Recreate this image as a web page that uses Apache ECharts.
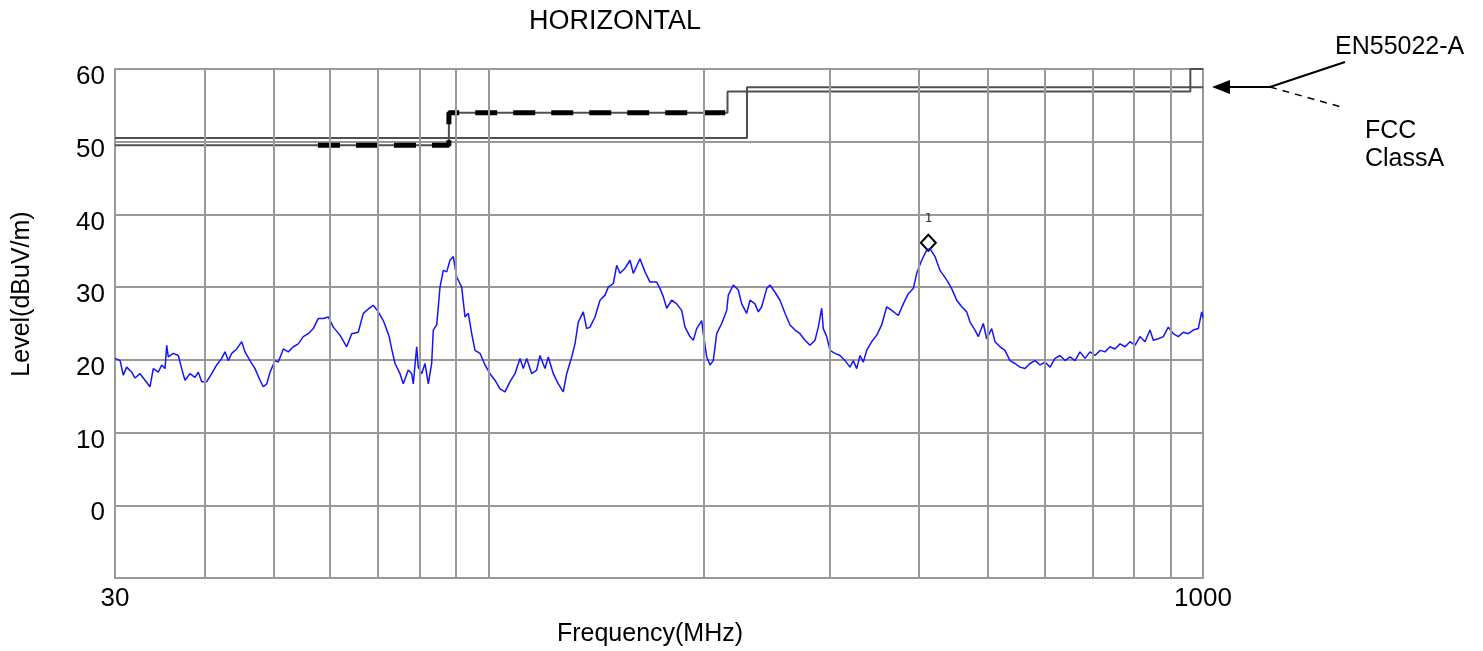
<!DOCTYPE html>
<html><head><meta charset="utf-8">
<script src="https://cdn.jsdelivr.net/npm/echarts@6/dist/echarts.min.js"></script>
<style>html,body{margin:0;padding:0;background:#fff}#c{width:1483px;height:651px}</style>
</head><body><div id="c"></div>
<script>
// Measured trace (frequency in MHz, level in dBuV/m)
const freqMHz = [30.0,30.5,30.81,31.15,31.66,32.0,32.52,33.05,33.58,33.94,34.49,34.87,35.25,35.44,35.62,36.2,36.79,37.19,37.59,38.2,38.82,39.24,39.67,40.32,40.97,41.64,42.31,42.77,43.22,43.7,44.41,45.13,45.61,46.35,47.11,47.87,48.38,48.92,49.44,50.24,50.78,51.61,52.44,53.3,54.16,55.04,55.94,56.84,57.77,58.71,59.66,60.63,61.95,63.3,64.33,65.71,66.78,67.87,68.97,70.09,71.23,71.62,72.6,73.18,73.97,75.17,75.97,77.2,78.06,78.46,79.32,79.73,80.61,81.47,82.35,83.25,83.68,84.61,85.51,86.42,87.38,88.31,89.26,90.24,91.7,92.69,93.68,94.71,95.72,97.28,98.86,100.46,102.09,103.75,105.44,107.15,108.89,110.66,111.84,113.08,114.91,116.78,118.03,119.95,121.23,123.2,125.2,127.23,128.63,130.73,132.12,133.54,135.7,137.2,138.67,140.92,143.21,145.54,147.09,149.48,151.13,152.74,155.23,157.75,159.43,162.91,165.56,168.25,171.92,173.76,175.62,177.56,180.44,183.37,186.35,188.34,191.4,193.45,195.58,198.76,199.79,201.99,204.15,206.33,208.6,211.99,215.44,216.55,220.07,223.64,226.11,229.78,232.24,236.01,238.54,241.16,245.08,247.7,251.72,255.81,259.97,264.19,268.48,272.85,277.28,281.78,286.36,289.42,292.61,294.12,297.36,300.54,305.43,310.39,315.43,320.56,323.99,327.56,331.06,334.6,338.28,343.78,349.37,355.04,360.81,366.67,374.55,380.64,386.82,393.1,397.43,403.89,410.45,414.84,421.58,428.43,437.78,444.89,452.12,459.47,466.93,471.92,479.59,484.72,492.59,498.02,506.11,511.52,519.83,528.28,536.86,545.58,554.45,563.45,572.6,581.91,591.36,600.97,610.73,620.65,630.73,640.98,651.39,661.98,672.73,683.66,694.76,706.05,717.52,729.18,741.02,753.06,765.29,777.73,790.36,803.2,816.25,829.51,842.98,852.0,865.84,879.91,894.2,908.73,923.49,938.49,953.74,969.24,984.98,995.84,1000];
const levelDb = [20.2,19.9,17.9,19.0,18.3,17.5,18.1,17.2,16.3,18.8,18.3,19.3,18.8,22.0,20.4,20.9,20.6,18.8,17.2,18.1,17.6,18.3,17.0,17.0,18.1,19.3,20.2,21.1,19.9,20.9,21.5,22.5,21.1,19.9,18.8,17.2,16.3,16.7,18.3,19.9,19.7,21.5,21.1,21.8,22.2,23.2,23.6,24.3,25.7,25.7,25.9,24.5,23.4,21.8,23.6,23.8,26.4,27.0,27.5,26.6,25.4,24.8,23.2,21.5,19.5,18.1,16.7,18.6,18.1,16.7,21.8,19.0,18.1,19.5,16.7,19.5,24.1,24.8,30.0,32.3,32.1,33.7,34.2,31.4,30.0,25.9,26.4,23.6,21.3,20.9,19.3,18.1,17.2,16.0,15.6,17.0,18.1,20.2,18.8,20.2,18.1,18.6,20.6,18.8,20.4,18.1,16.7,15.6,18.1,20.4,22.2,25.2,26.6,24.3,24.5,25.9,28.2,28.9,30.0,30.5,33.0,31.9,32.6,33.7,31.9,33.9,32.1,30.7,30.7,29.8,28.7,27.1,28.2,27.7,26.8,24.5,23.2,22.7,24.3,25.4,23.6,20.4,19.3,19.9,23.6,25.0,26.8,28.9,30.3,29.6,27.7,26.4,28.2,27.7,26.6,27.3,29.8,30.3,29.3,28.2,26.4,24.8,24.1,23.6,22.7,22.0,22.7,24.5,27.1,24.3,23.2,21.3,20.9,20.6,19.9,19.0,19.9,18.8,20.6,19.7,21.3,22.5,23.4,24.8,27.3,26.8,26.1,27.7,29.1,29.8,31.9,33.7,35.1,35.3,34.2,32.3,31.0,29.8,28.2,27.3,26.6,25.2,24.1,23.2,25.0,22.9,24.3,22.5,21.8,21.3,19.9,19.5,19.0,18.8,19.5,19.9,19.3,19.7,19.0,20.2,20.6,19.9,20.4,19.9,21.1,20.2,21.1,20.6,21.3,21.1,21.8,21.5,22.2,21.8,22.5,22.0,23.2,22.5,24.1,22.7,22.9,23.2,24.5,23.6,23.2,23.8,23.6,24.1,24.3,26.6,25.8];

// Limit lines
const enFreq = [30, 230, 230, 1000];
const enLevel = [50.5, 50.5, 57.5, 57.5];
const fccFreq = [30, 88, 88, 216, 216, 960, 960, 1000];
const fccLevel = [49.5, 49.5, 54, 54, 56.9, 56.9, 60, 60];
const fccDashFreq = [57.7, 88, 88, 216, 216];
const fccDashLevel = [49.5, 49.5, 54, 54, 55];

// Peak marker
const markerFreq = [412.6];
const markerLevel = [36.1];
const markerLabel = ['1'];

// Axes
const gridFreqs = [40, 50, 60, 70, 80, 90, 100, 200, 300, 400, 500, 600, 700, 800, 900];
const xTickLabels = ['30', '1000'];
const yTickLabels = ['0', '10', '20', '30', '40', '50', '60'];

const FONT = 'Liberation Sans, Arial, sans-serif';
const pairs = (a, b) => a.map((v, i) => [v, b[i]]);

const chart = echarts.init(document.getElementById('c'), null, {renderer: 'canvas'});
chart.setOption({
  animation: false,
  backgroundColor: '#ffffff',
  grid: {left: 115, right: 280, top: 69, bottom: 73, show: true, borderColor: '#9a9a9a', borderWidth: 2, backgroundColor: 'transparent'},
  xAxis: {
    type: 'log', logBase: 10, min: 30, max: 1000,
    axisLine: {show: false}, axisTick: {show: false}, splitLine: {show: false},
    axisLabel: {
      show: true, showMinLabel: true, showMaxLabel: true, margin: 8,
      fontSize: 26, color: '#000', fontFamily: FONT,
      formatter: v => { const s = String(Math.round(v)); return xTickLabels.includes(s) ? s : ''; }
    }
  },
  yAxis: {
    type: 'value', min: -10, max: 60, interval: 10,
    axisLine: {show: false}, axisTick: {show: false},
    splitLine: {show: true, lineStyle: {color: '#9a9a9a', width: 2}},
    axisLabel: {
      margin: 10, fontSize: 26, color: '#000', fontFamily: FONT,
      verticalAlign: 'top', lineHeight: 16,
      formatter: v => { const s = String(Math.round(v)); return yTickLabels.includes(s) ? s : ''; }
    }
  },
  series: [
    {
      type: 'line', data: [], silent: true,
      markLine: {
        silent: true, symbol: 'none', animation: false,
        label: {show: false},
        lineStyle: {color: '#9a9a9a', width: 2, type: 'solid'},
        data: gridFreqs.map(f => ({xAxis: f}))
      }
    },
    {type: 'line', data: pairs(enFreq, enLevel), showSymbol: false, silent: true,
     lineStyle: {color: '#505050', width: 2}},
    {type: 'line', data: pairs(fccFreq, fccLevel), showSymbol: false, silent: true,
     lineStyle: {color: '#505050', width: 2}},
    {type: 'line', data: pairs(fccDashFreq, fccDashLevel), showSymbol: false, silent: true,
     lineStyle: {color: '#000', width: 5, type: [22, 16]}},
    {type: 'line', data: pairs(freqMHz, levelDb), showSymbol: false, silent: true,
     lineStyle: {color: '#1414ff', width: 1.5}},
    {type: 'scatter', data: markerFreq.map((f, i) => ({value: [f, markerLevel[i]], name: markerLabel[i]})),
     symbol: 'diamond', symbolSize: [15, 16], silent: true,
     itemStyle: {color: '#ffffff', borderColor: '#000', borderWidth: 2, opacity: 1},
     label: {show: true, position: 'top', distance: 9, formatter: p => p.name,
             fontSize: 13, fontFamily: 'DejaVu Sans Mono, monospace', color: '#333344'}}
  ],
  graphic: [
    {type: 'text', x: 615, y: 22, style: {text: 'HORIZONTAL', font: '27px ' + FONT, fill: '#000', textAlign: 'center', textVerticalAlign: 'middle'}},
    {type: 'text', x: 650, y: 634, style: {text: 'Frequency(MHz)', font: '25px ' + FONT, fill: '#000', textAlign: 'center', textVerticalAlign: 'middle'}},
    {type: 'text', x: 22, y: 294, rotation: Math.PI / 2, style: {text: 'Level(dBuV/m)', font: '25px ' + FONT, fill: '#000', textAlign: 'center', textVerticalAlign: 'middle'}},
    {type: 'text', x: 1335, y: 47, style: {text: 'EN55022-A', font: '25px ' + FONT, fill: '#000', textAlign: 'left', textVerticalAlign: 'middle'}},
    {type: 'text', x: 1365, y: 131, style: {text: 'FCC', font: '25px ' + FONT, fill: '#000', textAlign: 'left', textVerticalAlign: 'middle'}},
    {type: 'text', x: 1365, y: 159, style: {text: 'ClassA', font: '25px ' + FONT, fill: '#000', textAlign: 'left', textVerticalAlign: 'middle'}},
    {type: 'polygon', shape: {points: [[1212, 87], [1230, 80], [1230, 94]]}, style: {fill: '#000'}},
    {type: 'line', shape: {x1: 1228, y1: 87, x2: 1270, y2: 87}, style: {stroke: '#000', lineWidth: 2}},
    {type: 'line', shape: {x1: 1270, y1: 87, x2: 1345, y2: 62}, style: {stroke: '#000', lineWidth: 2}},
    {type: 'line', shape: {x1: 1270, y1: 87, x2: 1345, y2: 108}, style: {stroke: '#000', lineWidth: 1.5, lineDash: [7, 6]}}
  ]
});
</script></body></html>
